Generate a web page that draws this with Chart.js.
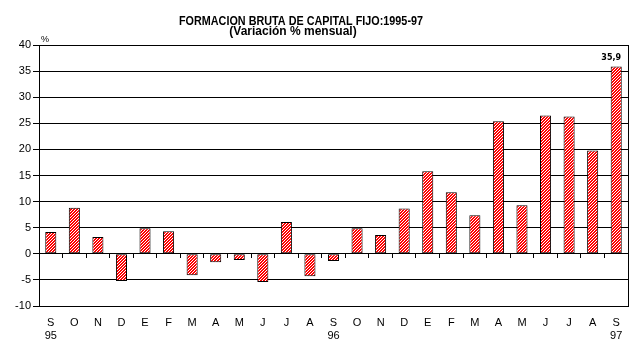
<!DOCTYPE html>
<html>
<head>
<meta charset="utf-8">
<script src="https://cdn.jsdelivr.net/npm/chart.js@4"></script>
<style>
  html, body { margin: 0; padding: 0; background: #fff; }
  #wrap { width: 639px; height: 351px; }
</style>
</head>
<body>
<div id="wrap"><canvas id="chart"></canvas></div>
<script>
// ── data ──
const months = ['S','O','N','D','E','F','M','A','M','J','J','A','S','O','N','D','E','F','M','A','M','J','J','A','S'];
const years  = ['95','','','','','','','','','','','','96','','','','','','','','','','','','97'];
const values = [4.2, 8.8, 3.2, -5.2, 4.9, 4.3, -4.1, -1.6, -1.2, -5.4, 6.1, -4.3,
                -1.4, 4.9, 3.6, 8.7, 15.8, 11.8, 7.4, 25.4, 9.3, 26.5, 26.3, 19.8, 35.9];
const yTicks = { min: -10, max: 40, step: 5 };

const labels = months.map((m, i) => [m, years[i]]);

// red / white upward diagonal hatch
function hatch() {
  const n = 3;
  const c = document.createElement('canvas');
  c.width = n; c.height = n;
  const g = c.getContext('2d');
  g.fillStyle = '#fff';
  g.fillRect(0, 0, n, n);
  g.fillStyle = '#ff0000';
  for (let x = 0; x < n; x++)
    for (let y = 0; y < n; y++)
      if ((x + y) % n < 2) g.fillRect(x, y, 1, 1);
  return g.createPattern(c, 'repeat');
}

// titles, "%" and the label on the last bar
const decor = {
  id: 'decor',
  afterDraw(chart) {
    const ctx = chart.ctx;
    ctx.save();
    ctx.fillStyle = '#000';
    ctx.textAlign = 'center';
    ctx.textBaseline = 'middle';
    ctx.font = 'bold 12px "Liberation Sans", Arial, sans-serif';
    ctx.fillText('FORMACION BRUTA DE CAPITAL FIJO:1995-97', 301, 22, 244);
    ctx.fillText('(Variación % mensual)', 293, 32, 128);
    ctx.font = '9px "Liberation Sans", Arial, sans-serif';
    ctx.textAlign = 'left';
    ctx.fillText('%', 41, 40);

    const meta = chart.getDatasetMeta(0);
    const last = meta.data[meta.data.length - 1];
    ctx.font = 'bold 8px "DejaVu Sans", sans-serif';
    ctx.textAlign = 'center';
    ctx.textBaseline = 'bottom';
    ctx.fillText(String(values[values.length - 1]).replace('.', ','), last.x - 5, last.y - 4);
    ctx.restore();
  }
};

const font = { family: '"Liberation Sans", Arial, sans-serif', size: 11 };

new Chart(document.getElementById('chart'), {
  type: 'bar',
  data: {
    labels,
    datasets: [{
      data: values,
      backgroundColor: hatch(),
      borderColor: '#000',
      borderWidth: 1,
      borderSkipped: false,
      barPercentage: 0.47,
      categoryPercentage: 1
    }]
  },
  options: {
    responsive: true,
    maintainAspectRatio: false,
    animation: false,
    layout: { padding: { top: 45, right: 11, left: 0, bottom: 0 } },
    plugins: { legend: { display: false }, tooltip: { enabled: false } },
    scales: {
      x: {
        offset: true,
        grid: { display: false },
        border: { display: false },
        ticks: { color: '#000', font, padding: 2, maxRotation: 0, autoSkip: false },
        afterFit: s => { s.height = 45; }
      },
      x0: {
        type: 'category',
        position: { y: 0 },
        offset: true,
        grid: { offset: true, drawOnChartArea: false, color: '#000', tickLength: 4 },
        border: { display: true, color: '#000' },
        ticks: { display: false }
      },
      y: {
        min: yTicks.min,
        max: yTicks.max,
        ticks: { stepSize: yTicks.step, color: '#000', font, padding: 2 },
        grid: { color: '#000', tickLength: 6 },
        border: { color: '#000' },
        afterFit: s => { s.width = 39; }
      },
      yr: {
        position: 'right',
        min: yTicks.min,
        max: yTicks.max,
        ticks: { display: false },
        grid: { drawOnChartArea: false, drawTicks: false },
        border: { display: true, color: '#000' },
        afterFit: s => { s.width = 0; }
      }
    }
  },
  plugins: [decor]
});
</script>
</body>
</html>
